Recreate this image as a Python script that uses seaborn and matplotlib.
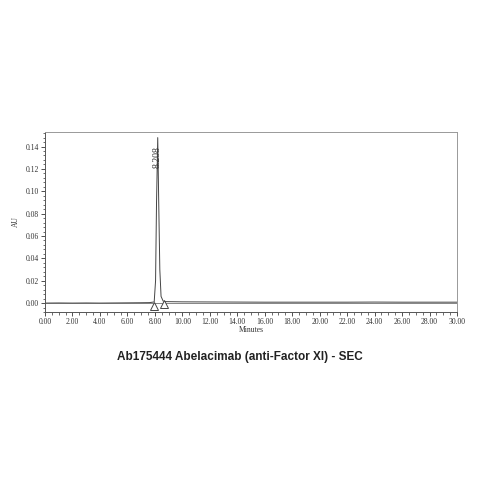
import matplotlib
matplotlib.use("Agg")
import matplotlib.pyplot as plt
from matplotlib.ticker import MultipleLocator, FormatStrFormatter
import numpy as np
import pandas as pd
import seaborn as sns

# chromatogram trace (minutes, AU)
times = [0.0, 1.0, 2.0, 3.0, 4.0, 5.0, 6.0, 7.0, 7.6, 7.95, 8.05, 8.12, 8.208,
         8.28, 8.36, 8.45, 8.6, 8.8, 10.0, 12.0, 14.0, 16.0, 18.0, 20.0, 22.0,
         24.0, 26.0, 28.0, 30.0]
absorb = [0.0, 0.0001, 0.0, 0.0001, 0.0, 0.0001, 0.0002, 0.0003, 0.0004, 0.001, 0.02,
          0.09, 0.148, 0.09, 0.03, 0.006, 0.0018, 0.0013, 0.0011, 0.001, 0.0009,
          0.0008, 0.0008, 0.0008, 0.0008, 0.0009, 0.0008, 0.0008, 0.0008]

# integration marks (peak start / end) and apex label
mark_t = [7.95, 8.68]
mark_au = [-0.0025, -0.0008]
peak_t = 8.208
peak_label = "8.208"

title = "Ab175444 Abelacimab (anti-Factor XI) - SEC"

sns.set_style("ticks")
plt.rcParams['font.family'] = ['Liberation Serif', 'DejaVu Serif']

df = pd.DataFrame({'Minutes': times, 'AU': absorb})

fig = plt.figure(figsize=(4.79, 4.79), dpi=100)
ax = fig.add_axes([0.094, 0.3486, 0.860, 0.3758])

sns.lineplot(data=df, x='Minutes', y='AU', sort=False, color='#444444',
             linewidth=0.7, ax=ax)
# baseline drawn by the integrator
ax.plot([0, 30], [0, 0], color='#555555', linewidth=0.5)
ax.plot(mark_t, mark_au, linestyle='none', marker='^', markersize=6,
        markerfacecolor='white', markeredgecolor='#444444', markeredgewidth=0.7)
ax.text(peak_t - 0.02, 0.1305, peak_label, rotation=90, ha='center', va='center',
        fontsize=7, color='#333333')

ax.set_xlim(0, 30)
ax.set_ylim(-0.008, 0.153)
ax.xaxis.set_major_locator(MultipleLocator(2))
ax.xaxis.set_minor_locator(MultipleLocator(0.5))
ax.yaxis.set_major_locator(MultipleLocator(0.02))
ax.yaxis.set_minor_locator(MultipleLocator(0.004))
ax.xaxis.set_major_formatter(FormatStrFormatter('%.2f'))
ax.yaxis.set_major_formatter(FormatStrFormatter('%.2f'))
ax.tick_params(which='major', length=3, width=0.6, labelsize=5.5, colors='#333333', pad=1.5)
ax.tick_params(which='minor', length=1.8, width=0.5, colors='#333333')
ax.set_xlabel('Minutes', fontsize=5.5, color='#333333', labelpad=0)
ax.set_ylabel('AU', fontsize=5.5, color='#333333', labelpad=4)
for s in ax.spines.values():
    s.set_linewidth(0.7)
    s.set_color('#555555')
ax.spines['top'].set_color('#999999')
ax.spines['right'].set_color('#999999')

fig.text(0.5, 0.2545, title, ha='center', va='center', fontsize=8.5,
         fontweight='bold', family=['Liberation Sans', 'DejaVu Sans'], color='#222222')

fig.savefig('out.png', dpi=100)
